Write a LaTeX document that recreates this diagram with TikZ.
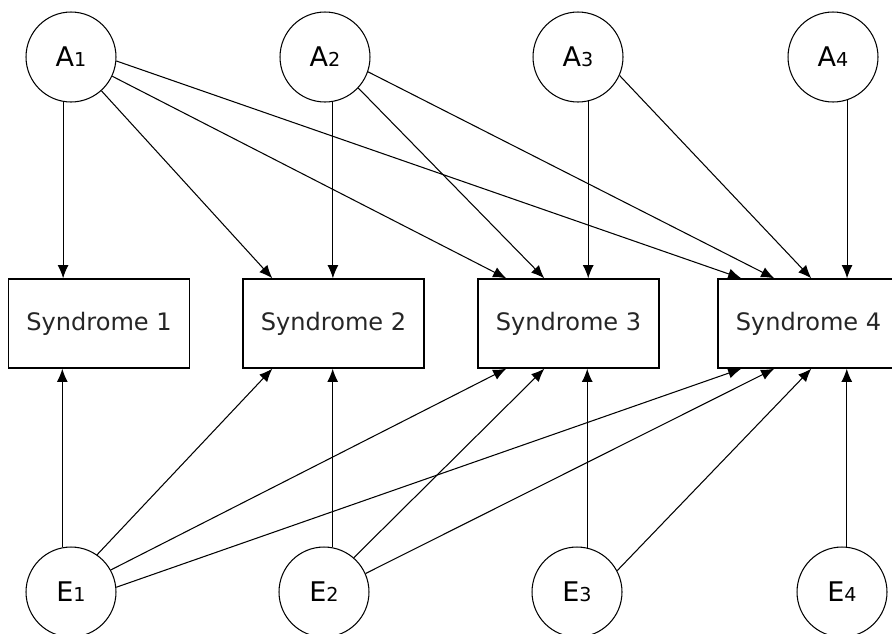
\documentclass[tikz,border=0pt]{standalone}
\usepackage{fontspec}
\setmainfont{DejaVu Sans}
\usetikzlibrary{arrows.meta,calc}
\tikzset{latent/.style={draw,circle,minimum size=1.8cm,inner sep=0pt,line width=0.6pt,
    font=\fontsize{15.4}{18}\selectfont}}
\tikzset{syndbox/.style={draw,rectangle,minimum width=3.62cm,minimum height=1.78cm,
    line width=0.8pt,text=black!85,font=\fontsize{13.7}{16}\selectfont}}
\tikzset{link/.style={-{Latex[length=7.5pt,width=6.2pt]},line width=0.6pt}}
\newcommand{\lbl}[2]{#1{\fontsize{10.9}{12}\selectfont #2}}

\begin{document}
\begin{tikzpicture}[x=0.02cm,y=-0.02cm]
  \useasboundingbox (0,0) rectangle (892,633);

  \node [latent] (a1) at (71,57)  {\lbl{A}{1}};
  \node [latent] (a2) at (325,57) {\lbl{A}{2}};
  \node [latent] (a3) at (578,57) {\lbl{A}{3}};
  \node [latent] (a4) at (833,57) {\lbl{A}{4}};

  \node [syndbox] (s1) at (99,323.5)    {Syndrome 1};
  \node [syndbox] (s2) at (333.5,323.5) {Syndrome 2};
  \node [syndbox] (s3) at (568.5,323.5) {Syndrome 3};
  \node [syndbox] (s4) at (808.5,323.5) {Syndrome 4};

  \node [latent] (e1) at (71,592)  {\lbl{E}{1}};
  \node [latent] (e2) at (324,592) {\lbl{E}{2}};
  \node [latent] (e3) at (577,592) {\lbl{E}{3}};
  \node [latent] (e4) at (842,592) {\lbl{E}{4}};

  \draw [link] (a1.-100) -- (a1.-100 |- s1.north);
  \draw [link] (a1.-48)  -- ($(s2.north west)+(30,0)$);
  \draw [link] (a1.-25)  -- ($(s3.north west)+(29,0)$);
  \draw [link] (a1.-5)   -- ($(s4.north west)+(24,0)$);
  \draw [link] (a2.-80)  -- (a2.-80 |- s2.north);
  \draw [link] (a2.-43)  -- ($(s3.north west)+(67,0)$);
  \draw [link] (a2.-19)  -- ($(s4.north west)+(57,0)$);
  \draw [link] (a3.-77)  -- (a3.-77 |- s3.north);
  \draw [link] (a3.-24)  -- ($(s4.north west)+(94,0)$);
  \draw [link] (a4.-72)  -- (a4.-72 |- s4.north);

  \draw [link] (e1.101) -- (e1.101 |- s1.south);
  \draw [link] (e1.55)  -- ($(s2.south west)+(30,0)$);
  \draw [link] (e1.29)  -- ($(s3.south west)+(29,0)$);
  \draw [link] (e1.6)   -- ($(s4.south west)+(24,0)$);
  \draw [link] (e2.79)  -- (e2.79 |- s2.south);
  \draw [link] (e2.49)  -- ($(s3.south west)+(67,0)$);
  \draw [link] (e2.24)  -- ($(s4.south west)+(57,0)$);
  \draw [link] (e3.77)  -- (e3.77 |- s3.south);
  \draw [link] (e3.28)  -- ($(s4.south west)+(94,0)$);
  \draw [link] (e4.84)  -- (e4.84 |- s4.south);
\end{tikzpicture}
\end{document}
